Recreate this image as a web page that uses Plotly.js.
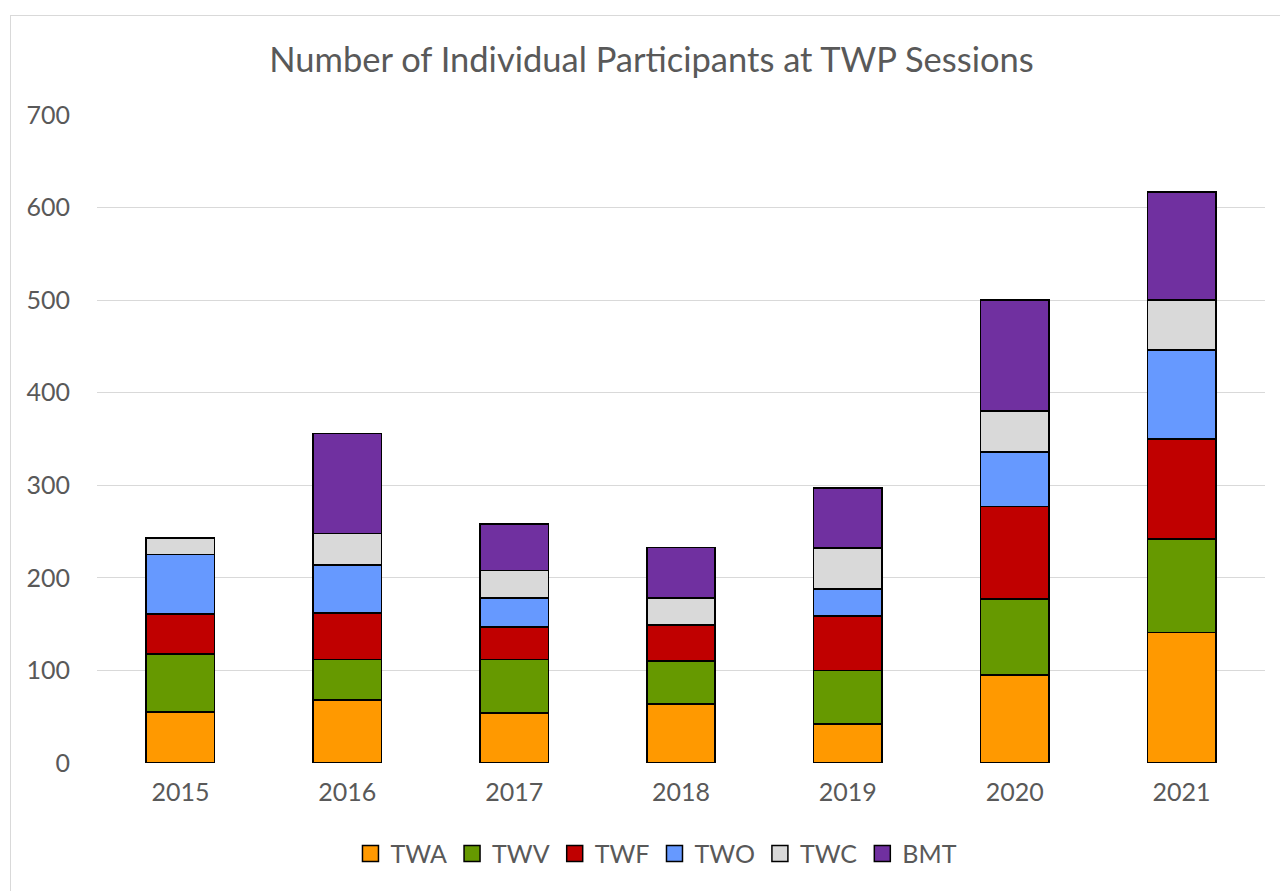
<!DOCTYPE html>
<html>
<head>
<meta charset="utf-8">
<script src="https://cdn.plot.ly/plotly-3.0.1.min.js"></script>
<style>
html,body{margin:0;padding:0;background:#fff;}
#frame{position:absolute;left:10px;top:15px;width:1300px;height:900px;border:1px solid #d9d9d9;box-sizing:border-box;}
#chart{position:absolute;left:0;top:0;width:1280px;height:891px;}
</style>
</head>
<body>
<div id="frame"></div>
<div id="chart"></div>
<script>
const years = ['2015','2016','2017','2018','2019','2020','2021'];
const TWA = [55, 68, 54, 64, 42, 95, 141];
const TWV = [63, 44, 58, 46, 58, 82, 101];
const TWF = [43, 50, 35, 39, 59, 100, 108];
const TWO = [64, 52, 31, 0, 29, 59, 96];
const TWC = [18, 34, 30, 29, 44, 44, 54];
const BMT = [0, 108, 50, 55, 65, 120, 117];
const seriesNames = ['TWA','TWV','TWF','TWO','TWC','BMT'];
const seriesColors = ['#ff9900','#669900','#c00000','#6699ff','#d9d9d9','#7030a0'];
const seriesData = [TWA, TWV, TWF, TWO, TWC, BMT];

const traces = seriesData.map((vals, i) => ({
  type: 'bar',
  name: seriesNames[i],
  x: years,
  y: vals,
  marker: {color: seriesColors[i], line: {color: '#000000', width: 1.5}},
  showlegend: false,
  legendgroup: seriesNames[i]
}));
// legend entries with larger square swatches
seriesNames.forEach((n, i) => {
  traces.push({
    type: 'scatter', mode: 'markers', name: n, x: [null], y: [null],
    legendgroup: n,
    marker: {symbol: 'square', size: 16, color: seriesColors[i], line: {color: '#000000', width: 1.5}},
    showlegend: true
  });
});

const font = 'Lato, Open Sans, sans-serif';
const layout = {
  width: 1280, height: 891,
  paper_bgcolor: 'rgba(0,0,0,0)',
  plot_bgcolor: 'rgba(0,0,0,0)',
  barmode: 'stack',
  bargap: 0.59,
  margin: {l: 97, r: 15, t: 115, b: 128},
  title: {text: 'Number of Individual Participants at TWP Sessions',
          font: {family: font, size: 34.5, color: '#595959'},
          x: 0.509, xanchor: 'center', y: 0.933, yanchor: 'middle'},
  xaxis: {type: 'category', tickfont: {family: font, size: 25, color: '#595959'},
          showgrid: false, showline: false, ticks: '', ticklabelstandoff: 12},
  yaxis: {range: [0, 700], tickvals: [0,100,200,300,400,500,600,700],
          tickfont: {family: font, size: 25, color: '#595959'},
          gridcolor: '#d9d9d9', gridwidth: 1, zeroline: false, showline: false,
          ticks: '', ticklabelstandoff: 26},
  legend: {orientation: 'h', x: 0.479, xanchor: 'center', y: -0.14, yanchor: 'middle',
           font: {family: font, size: 25, color: '#595959'}, traceorder: 'normal',
           itemwidth: 30},
  showlegend: true
};
Plotly.newPlot('chart', traces, layout, {displayModeBar: false, staticPlot: true});
</script>
</body>
</html>
